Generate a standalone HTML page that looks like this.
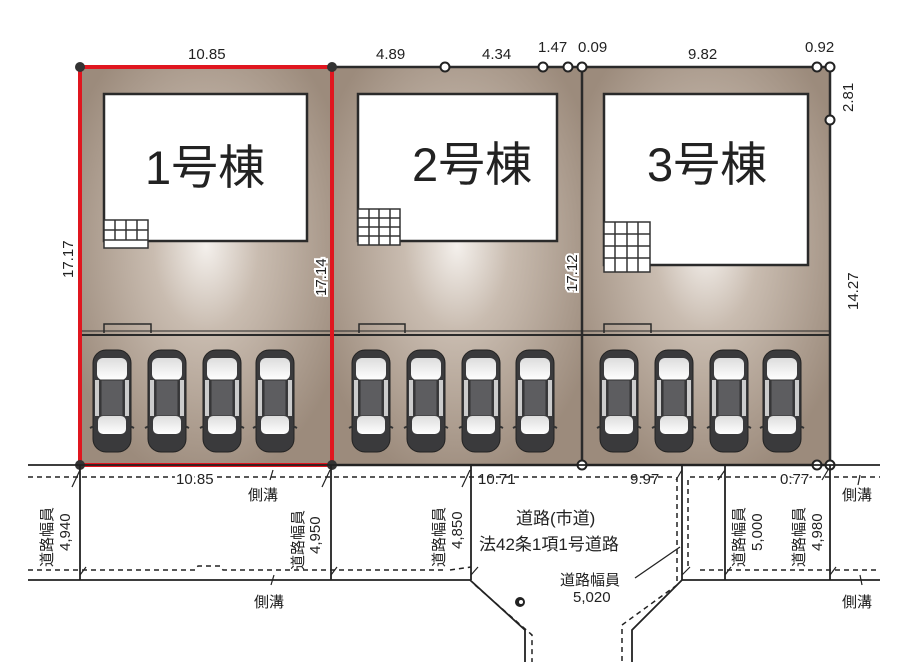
<!DOCTYPE html>
<html><head><meta charset="utf-8"><style>
html,body{margin:0;padding:0;background:#fff;}
svg{display:block;}
text{font-family:"Liberation Sans","Noto Sans CJK JP",sans-serif;fill:#222;}
</style></head><body>
<svg width="900" height="662" viewBox="0 0 900 662" xmlns="http://www.w3.org/2000/svg">
<defs>
<radialGradient id="lg" cx="0.5" cy="0.45" r="0.6">
<stop offset="0" stop-color="#f4f0ec"/><stop offset="0.35" stop-color="#c9bcb0"/><stop offset="1" stop-color="#9c8b7c"/>
</radialGradient>
<linearGradient id="gl" x1="0" y1="0" x2="0" y2="1"><stop offset="0" stop-color="#ddd"/><stop offset="1" stop-color="#fff"/></linearGradient>
<g id="car">
<rect x="0" y="0" width="38" height="102" rx="13" fill="#3a3a3c" stroke="#222" stroke-width="1"/>
<rect x="4" y="8" width="30" height="22" rx="6" fill="url(#gl)"/>
<rect x="8" y="30" width="22" height="36" fill="#5d5d60" stroke="#333" stroke-width="1"/>
<rect x="5" y="66" width="28" height="18" rx="5" fill="url(#gl)"/>
<rect x="2" y="30" width="4" height="36" fill="#ccc"/>
<rect x="32" y="30" width="4" height="36" fill="#ccc"/>
<path d="M-3 78 L1 76 M41 78 L37 76" stroke="#333" stroke-width="2"/>
</g>
</defs>

<rect x="80" y="67" width="252" height="398" fill="url(#lg)"/>
<rect x="332" y="67" width="250" height="398" fill="url(#lg)"/>
<rect x="582" y="67" width="248" height="398" fill="url(#lg)"/>
<rect x="80" y="67" width="750" height="398" fill="none" stroke="#2a2a2a" stroke-width="2.5"/>
<line x1="332" y1="67" x2="332" y2="465" stroke="#2a2a2a" stroke-width="2.5"/>
<line x1="582" y1="67" x2="582" y2="465" stroke="#2a2a2a" stroke-width="2.5"/>
<line x1="80" y1="335" x2="830" y2="335" stroke="#2a2a2a" stroke-width="2"/>
<line x1="80" y1="331" x2="830" y2="331" stroke="#2a2a2a" stroke-width="1"/>
<path d="M104 333 V324 H151 V333" fill="none" stroke="#2a2a2a" stroke-width="1.5"/>
<path d="M359 333 V324 H405 V333" fill="none" stroke="#2a2a2a" stroke-width="1.5"/>
<path d="M604 333 V324 H651 V333" fill="none" stroke="#2a2a2a" stroke-width="1.5"/>

<rect x="104" y="94" width="203" height="147" fill="#fff" stroke="#2a2a2a" stroke-width="2.5"/>
<rect x="358" y="94" width="199" height="147" fill="#fff" stroke="#2a2a2a" stroke-width="2.5"/>
<rect x="604" y="94" width="204" height="171" fill="#fff" stroke="#2a2a2a" stroke-width="2.5"/>
<text x="145" y="184" font-size="47">1号棟</text>
<text x="412" y="181" font-size="47">2号棟</text>
<text x="647" y="181" font-size="47">3号棟</text>

<g stroke="#333" stroke-width="1.5" fill="#fff">
<rect x="104" y="220" width="44" height="28"/>
<path d="M104 240 H148 M115 220 V240 M126 220 V240 M137 220 V240 M104 230 H148" fill="none"/>
<rect x="358" y="209" width="42" height="36"/>
<path d="M369 209 V245 M379 209 V245 M390 209 V245 M358 218 H400 M358 227 H400 M358 236 H400" fill="none"/>
<rect x="604" y="222" width="46" height="50"/>
<path d="M615 222 V272 M627 222 V272 M638 222 V272 M604 234 H650 M604 246 H650 M604 258 H650" fill="none"/>
</g>

<use href="#car" x="93" y="350"/><use href="#car" x="148" y="350"/><use href="#car" x="203" y="350"/><use href="#car" x="256" y="350"/>
<use href="#car" x="352" y="350"/><use href="#car" x="407" y="350"/><use href="#car" x="462" y="350"/><use href="#car" x="516" y="350"/>
<use href="#car" x="600" y="350"/><use href="#car" x="655" y="350"/><use href="#car" x="710" y="350"/><use href="#car" x="763" y="350"/>

<rect x="80" y="67" width="252" height="398" fill="none" stroke="#e0161f" stroke-width="4"/>

<g fill="#333"><circle cx="80" cy="67" r="5"/><circle cx="332" cy="67" r="5"/><circle cx="80" cy="465" r="5"/><circle cx="332" cy="465" r="5"/></g>
<g fill="#fff" stroke="#222" stroke-width="2">
<circle cx="445" cy="67" r="4.5"/><circle cx="543" cy="67" r="4.5"/><circle cx="568" cy="67" r="4.5"/><circle cx="582" cy="67" r="4.5"/>
<circle cx="817" cy="67" r="4.5"/><circle cx="830" cy="67" r="4.5"/><circle cx="830" cy="120" r="4.5"/>
<circle cx="582" cy="465" r="4.5"/><circle cx="817" cy="465" r="4.5"/><circle cx="830" cy="465" r="4.5"/>
</g>

<g font-size="15">
<text x="188" y="59">10.85</text>
<text x="376" y="59">4.89</text>
<text x="482" y="59">4.34</text>
<text x="538" y="52">1.47</text>
<text x="578" y="52">0.09</text>
<text x="688" y="59">9.82</text>
<text x="805" y="52">0.92</text>
<text transform="translate(853,112) rotate(-90)">2.81</text>
<text transform="translate(73,278) rotate(-90)">17.17</text>
<text transform="translate(858,310) rotate(-90)">14.27</text>
</g>
<g font-size="15" stroke="#fff" stroke-width="4" paint-order="stroke">
<text transform="translate(326,296) rotate(-90)">17.14</text>
<text transform="translate(577,292) rotate(-90)">17.12</text>
</g>

<g stroke="#222" stroke-width="1.8" fill="none">
<line x1="28" y1="465" x2="880" y2="465"/>
<path d="M28 580 H470 L525 630 V662"/>
<path d="M880 580 H682 L632 630 V662"/>
<line x1="80" y1="465" x2="80" y2="580"/>
<line x1="331" y1="465" x2="331" y2="580"/>
<line x1="471" y1="465" x2="471" y2="580"/>
<line x1="682" y1="465" x2="682" y2="580"/>
<line x1="725" y1="465" x2="725" y2="580"/>
<line x1="830" y1="465" x2="830" y2="580"/>
<path d="M635 578 L680 547" stroke-width="1.3"/>
</g>
<g stroke="#222" stroke-width="1.5" fill="none" stroke-dasharray="5,4">
<line x1="28" y1="477" x2="675" y2="477"/>
<line x1="690" y1="477" x2="880" y2="477"/>
<path d="M28 570 H195 L198 566 H220 L223 570 H445"/>
<path d="M450 570 L471 567"/>
<path d="M700 570 H880"/>
<path d="M475 585 L532 635 V662"/>
<path d="M677 477 V585 L622 625 V662"/>
<path d="M688 480 V570"/>
</g>
<g stroke="#222" stroke-width="1.2">
<path d="M72 487 L80 470 M80 575 L86 567 M322 487 L330 470 M331 575 L337 567 M462 487 L470 470 M471 575 L478 567 M676 480 L682 470 M682 575 L690 567 M718 480 L725 470 M725 575 L731 567 M822 480 L828 470 M830 575 L836 567 M273 470 L270 480 M274 575 L271 585 M860 475 L858 485 M860 575 L862 585"/>
</g>
<circle cx="520" cy="602" r="5" fill="#222"/><circle cx="521" cy="602" r="2" fill="#fff"/>

<g font-size="15">
<text x="176" y="484" stroke="#fff" stroke-width="5" paint-order="stroke">10.85</text>
<text x="248" y="500">側溝</text>
<text x="478" y="484">10.71</text>
<text x="630" y="484">9.97</text>
<text x="780" y="484" stroke="#fff" stroke-width="4" paint-order="stroke">0.77</text>
<text x="842" y="500">側溝</text>
<text x="254" y="607">側溝</text>
<text x="842" y="607">側溝</text>
<text x="516" y="524" font-size="17">道路(市道)</text>
<text x="479" y="550" font-size="17">法42条1項1号道路</text>
<text x="560" y="585">道路幅員</text>
<text x="573" y="602">5,020</text>
<text transform="translate(52,567) rotate(-90)">道路幅員</text>
<text transform="translate(70,551) rotate(-90)">4,940</text>
<text transform="translate(303,570) rotate(-90)">道路幅員</text>
<text transform="translate(320,554) rotate(-90)">4,950</text>
<text transform="translate(444,567) rotate(-90)">道路幅員</text>
<text transform="translate(462,549) rotate(-90)">4,850</text>
<text transform="translate(744,567) rotate(-90)">道路幅員</text>
<text transform="translate(762,551) rotate(-90)">5,000</text>
<text transform="translate(804,567) rotate(-90)">道路幅員</text>
<text transform="translate(822,551) rotate(-90)">4,980</text>
</g>
</svg>
</body></html>
